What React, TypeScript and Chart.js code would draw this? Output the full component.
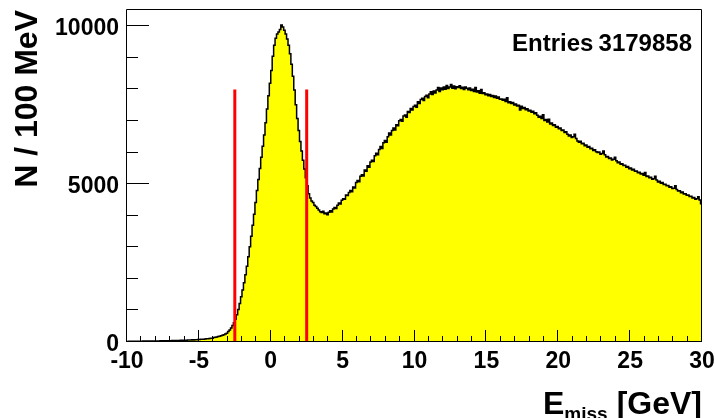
import { useEffect, useRef } from "react";
import { Chart, registerables } from "chart.js";

Chart.register(...registerables);

// ---------- data ----------
const X_MIN = -10;
const X_MAX = 30;
const BIN_WIDTH = 0.1; // 100 MeV
const Y_MAX = 10550;

const xTickLabels = [-10, -5, 0, 5, 10, 15, 20, 25, 30];
const yTickLabels = [0, 5000, 10000];
const xMinorStep = 1;
const yMinorStep = 1000;

const cutLow = -2.5;
const cutHigh = 2.5;
const cutHeight = 8000;

const entriesLabel = "Entries";
const entriesValue = "3179858";
const yTitle = "N / 100 MeV";
const xTitleMain = "E";
const xTitleSub = "miss";
const xTitleUnit = "[GeV]";

// bins -10.0 .. -3.1
const binsTail = [
  18, 22, 20, 25, 19, 23, 26, 21, 24, 27,
  25, 28, 24, 30, 27, 29, 31, 28, 33, 30,
  32, 29, 34, 36, 33, 38, 35, 40, 37, 42,
  40, 44, 42, 47, 45, 50, 48, 53, 51, 56,
  55, 58, 62, 60, 65, 68, 66, 72, 75, 78,
  82, 85, 90, 88, 95, 100, 104, 110, 115, 122,
  140, 150, 160, 172, 185, 200, 215, 232, 252, 275,
];
// bins -3.0 .. 2.9
const binsPeak = [
  330, 380, 440, 520, 610, 720, 860, 1030, 1220, 1430,
  1650, 1880, 2130, 2400, 2700, 3020, 3350, 3700, 4050, 4420,
  4800, 5150, 5500, 5850, 6200, 6560, 6950, 7380, 7800, 8200,
  8600, 9050, 9400, 9620, 9760, 9820, 9900, 10040, 9980, 9880,
  9760, 9600, 9400, 9130, 8800, 8420, 7980, 7520, 7080, 6700,
  6350, 6050, 5760, 5480, 5200, 4950, 4700, 4560, 4470, 4420,
];
// bins 3.0 .. 12.9
const binsRise = [
  4330, 4290, 4240, 4180, 4130, 4100, 4140, 4060, 4090, 4030,
  4110, 4160, 4120, 4210, 4260, 4230, 4330, 4400, 4370, 4490,
  4540, 4520, 4660, 4640, 4740, 4800, 4760, 4910, 4880, 5050,
  5120, 5080, 5250, 5300, 5260, 5450, 5410, 5580, 5540, 5700,
  5760, 5720, 5900, 5980, 5930, 6100, 6190, 6130, 6310, 6380,
  6330, 6500, 6620, 6560, 6700, 6780, 6720, 6880, 6850, 7010,
  7050, 6990, 7160, 7190, 7120, 7300, 7270, 7400, 7350, 7460,
  7500, 7440, 7610, 7560, 7680, 7720, 7650, 7780, 7820, 7740,
  7860, 7930, 7840, 7950, 7890, 7980, 8060, 7940, 8050, 7990,
  8080, 8010, 8130, 8030, 8080, 8160, 8040, 8110, 8020, 8090,
];
// bins 13.0 .. 29.9
const binsFall = [
  8060, 8120, 8030, 8070, 8000, 8080, 8040, 7990, 8050, 7970,
  8010, 7940, 8060, 7920, 7960, 7880, 8000, 7870, 7900, 7830,
  7860, 7800, 7840, 7780, 7810, 7750, 7790, 7720, 7760, 7690,
  7700, 7660, 7690, 7620, 7740, 7580, 7610, 7560, 7590, 7510,
  7540, 7480, 7500, 7350, 7470, 7400, 7430, 7360, 7390, 7320,
  7340, 7280, 7310, 7230, 7260, 7180, 7120, 7150, 7080, 7200,
  7020, 7050, 6970, 7060, 6910, 6940, 6860, 6880, 6800, 6830,
  6760, 6780, 6700, 6720, 6640, 6660, 6580, 6530, 6560, 6480,
  6500, 6580, 6450, 6370, 6330, 6360, 6280, 6300, 6220, 6240,
  6170, 6190, 6120, 6140, 6070, 6090, 6030, 6000, 6020, 5950,
  5970, 6050, 5930, 5860, 5880, 5810, 5830, 5770, 5790, 5850,
  5740, 5680, 5700, 5630, 5650, 5590, 5600, 5540, 5560, 5490,
  5510, 5450, 5470, 5410, 5420, 5360, 5380, 5320, 5340, 5280,
  5370, 5240, 5260, 5200, 5220, 5160, 5170, 5250, 5130, 5070,
  5090, 5030, 5050, 4990, 5000, 4950, 4960, 4900, 4920, 4860,
  4870, 4950, 4830, 4780, 4790, 4730, 4750, 4690, 4700, 4650,
  4660, 4610, 4620, 4560, 4580, 4520, 4540, 4600, 4500, 4380,
];

const counts = [...binsTail, ...binsPeak, ...binsRise, ...binsFall];

const FONT = "'Liberation Sans', Arial, Helvetica, sans-serif";

const rootStylePlugin = {
  id: "rootStyle",
  afterDatasetsDraw(chart: any) {
    const { ctx, chartArea: a, scales } = chart;
    const x = scales.x;
    const y = scales.y;
    ctx.save();
    ctx.strokeStyle = "#000";
    ctx.lineWidth = 1;
    ctx.beginPath();
    for (let v = X_MIN; v <= X_MAX + 1e-9; v += xMinorStep) {
      const px = Math.round(x.getPixelForValue(v)) - 0.5;
      const len = Math.abs(v % 5) < 1e-9 ? 12 : 6;
      ctx.moveTo(px, a.bottom);
      ctx.lineTo(px, a.bottom - len);
    }
    for (let v = 0; v <= Y_MAX; v += yMinorStep) {
      const py = Math.round(y.getPixelForValue(v)) - 0.5;
      const len = v % 5000 === 0 ? 22 : 11;
      ctx.moveTo(a.left, py);
      ctx.lineTo(a.left + len, py);
    }
    ctx.stroke();
    ctx.beginPath();
    ctx.rect(a.left - 0.5, a.top + 0.5, a.right - a.left, a.bottom - a.top - 1);
    ctx.stroke();

    ctx.fillStyle = "#000";
    // statistics
    ctx.font = `bold 24px ${FONT}`;
    ctx.textBaseline = "alphabetic";
    ctx.textAlign = "left";
    ctx.fillText(entriesLabel, 512, 51);
    ctx.textAlign = "right";
    ctx.fillText(entriesValue, 692, 51);

    // x title
    ctx.font = `bold 32px ${FONT}`;
    ctx.textAlign = "left";
    const ex = 543;
    ctx.fillText(xTitleMain, ex, 414);
    const ew = ctx.measureText(xTitleMain).width;
    ctx.font = `bold 19px ${FONT}`;
    ctx.fillText(xTitleSub, ex + ew, 420);
    ctx.font = `bold 32px ${FONT}`;
    ctx.textAlign = "right";
    ctx.fillText(xTitleUnit, 702, 414);

    // y title
    ctx.translate(37, 10);
    ctx.rotate(-Math.PI / 2);
    ctx.textAlign = "right";
    ctx.fillText(yTitle, 0, 0);
    ctx.restore();
  },
};

export default function App() {
  const ref = useRef<HTMLCanvasElement>(null);

  useEffect(() => {
    document.body.style.margin = "0";
    Chart.defaults.font.family = FONT;
    Chart.defaults.color = "#000";

    const histPoints = counts.map((c, i) => ({ x: X_MIN + i * BIN_WIDTH, y: c }));
    histPoints.push({ x: X_MAX, y: counts[counts.length - 1] });

    const chart = new Chart(ref.current as HTMLCanvasElement, {
      type: "line",
      data: {
        datasets: [
          {
            data: [
              { x: cutLow, y: 0 },
              { x: cutLow, y: cutHeight },
            ],
            borderColor: "#ff0000",
            borderWidth: 3,
            pointRadius: 0,
            fill: false,
            order: 0,
          },
          {
            data: [
              { x: cutHigh, y: 0 },
              { x: cutHigh, y: cutHeight },
            ],
            borderColor: "#ff0000",
            borderWidth: 3,
            pointRadius: 0,
            fill: false,
            order: 0,
          },
          {
            data: histPoints,
            stepped: true,
            borderColor: "#000000",
            borderWidth: 1.5,
            backgroundColor: "#ffff00",
            fill: "origin",
            pointRadius: 0,
            pointHoverRadius: 0,
            order: 1,
          },
        ],
      },
      options: {
        responsive: false,
        animation: false,
        events: [],
        layout: { padding: { top: 9, right: 13, left: 0, bottom: 0 } },
        plugins: {
          legend: { display: false },
          tooltip: { enabled: false },
        },
        scales: {
          x: {
            type: "linear",
            min: X_MIN,
            max: X_MAX,
            grid: { display: false, drawTicks: false },
            border: { display: false },
            ticks: {
              font: { size: 23, weight: "bold" },
              color: "#000",
              padding: 6,
              maxRotation: 0,
              autoSkip: false,
              callback: (v: any) => String(v),
            },
            afterBuildTicks: (s: any) => {
              s.ticks = xTickLabels.map((v) => ({ value: v }));
            },
            afterFit: (s: any) => {
              s.height = 76;
              s.paddingLeft = 0;
              s.paddingRight = 0;
            },
          },
          y: {
            type: "linear",
            min: 0,
            max: Y_MAX,
            grid: { display: false, drawTicks: false },
            border: { display: false },
            ticks: {
              font: { size: 23, weight: "bold" },
              color: "#000",
              padding: 8,
              labelOffset: 2.5,
              autoSkip: false,
              callback: (v: any) => String(v),
            },
            afterBuildTicks: (s: any) => {
              s.ticks = yTickLabels.map((v) => ({ value: v }));
            },
            afterFit: (s: any) => {
              s.width = 127;
              s.paddingTop = 0;
              s.paddingBottom = 0;
            },
          },
        },
      } as any,
      plugins: [rootStylePlugin],
    });
    return () => chart.destroy();
  }, []);

  return (
    <div style={{ position: "absolute", left: 0, top: 0, width: 715, height: 418, background: "#fff" }}>
      <canvas ref={ref} width={715} height={418} style={{ display: "block", width: 715, height: 418 }} />
    </div>
  );
}
